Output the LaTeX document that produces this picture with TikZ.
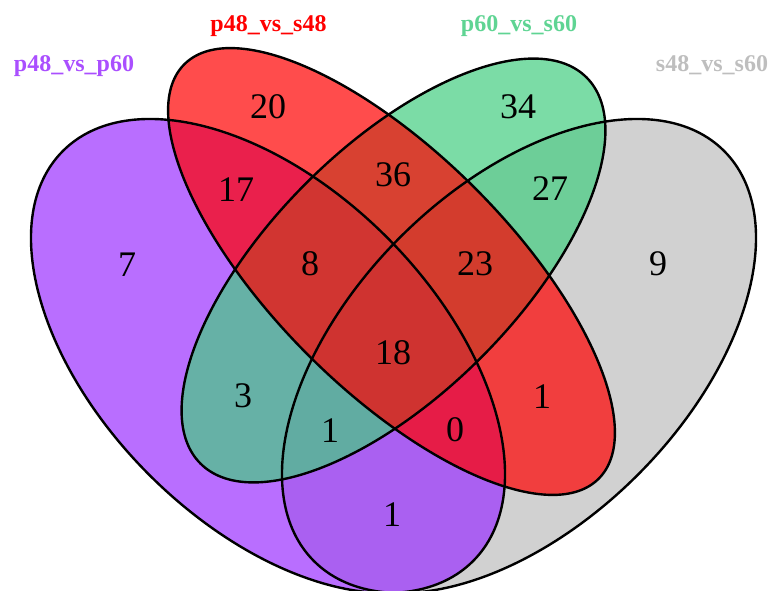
\documentclass[tikz,border=0pt]{standalone}
\usepackage{fontspec}
\setmainfont{Liberation Serif}
\definecolor{setA}{RGB}{155,48,255}
\definecolor{setB}{RGB}{255,0,0}
\definecolor{setC}{RGB}{67,205,128}
\definecolor{setD}{RGB}{190,190,190}
\tikzset{
  setfill/.style={fill=#1, fill opacity=0.7, draw=none},
  setline/.style={draw=black, line width=2.4pt, fill=none},
  count/.style={font=\fontsize{36}{40}\selectfont, inner sep=0pt, text=black},
  setname/.style={font=\fontsize{24}{28}\selectfont\bfseries, inner sep=0pt, anchor=base, text=#1},
}
\begin{document}
\begin{tikzpicture}[x=1pt,y=1pt]
\useasboundingbox (0,0) rectangle (771,590);
% fills, back to front
\begin{scope}[shift={(519,234)},rotate=45]
  \path[setfill=setD] (0,0) ellipse [x radius=290, y radius=168];
\end{scope}
\begin{scope}[shift={(268,234)},rotate=-45]
  \path[setfill=setA] (0,0) ellipse [x radius=290, y radius=168];
\end{scope}
\begin{scope}[shift={(393.5,319.5)},rotate=45]
  \path[setfill=setC] (0,0) ellipse [x radius=273, y radius=123.5];
\end{scope}
\begin{scope}[shift={(391.5,318.5)},rotate=-45]
  \path[setfill=setB] (0,0) ellipse [x radius=293, y radius=118];
\end{scope}
% outlines on top
\begin{scope}[shift={(519,234)},rotate=45]
  \draw[setline] (0,0) ellipse [x radius=290, y radius=168];
\end{scope}
\begin{scope}[shift={(268,234)},rotate=-45]
  \draw[setline] (0,0) ellipse [x radius=290, y radius=168];
\end{scope}
\begin{scope}[shift={(393.5,319.5)},rotate=45]
  \draw[setline] (0,0) ellipse [x radius=273, y radius=123.5];
\end{scope}
\begin{scope}[shift={(391.5,318.5)},rotate=-45]
  \draw[setline] (0,0) ellipse [x radius=293, y radius=118];
\end{scope}
% set names
\node[setname=setA!85!white] (nA) at (74,518) {p48\_vs\_p60};
\node[setname=setB] (nB) at (268.5,558) {p48\_vs\_s48};
\node[setname=setC!85!white] (nC) at (519,558) {p60\_vs\_s60};
\node[setname=setD] (nD) at (712,518) {s48\_vs\_s60};
% region counts
\node[count] (a) at (127,325) {7};
\node[count] (b) at (268,483) {20};
\node[count] (c) at (518,483) {34};
\node[count] (d) at (658,326) {9};
\node[count] (ab) at (236,400) {17};
\node[count] (bc) at (393,415) {36};
\node[count] (cd) at (550,401) {27};
\node[count] (abc) at (310,326) {8};
\node[count] (bcd) at (475,326) {23};
\node[count] (abcd) at (393,237) {18};
\node[count] (ac) at (243,194) {3};
\node[count] (bd) at (542,193) {1};
\node[count] (acd) at (330,159) {1};
\node[count] (abd) at (455,160) {0};
\node[count] (ad) at (392,75) {1};
\end{tikzpicture}
\end{document}
